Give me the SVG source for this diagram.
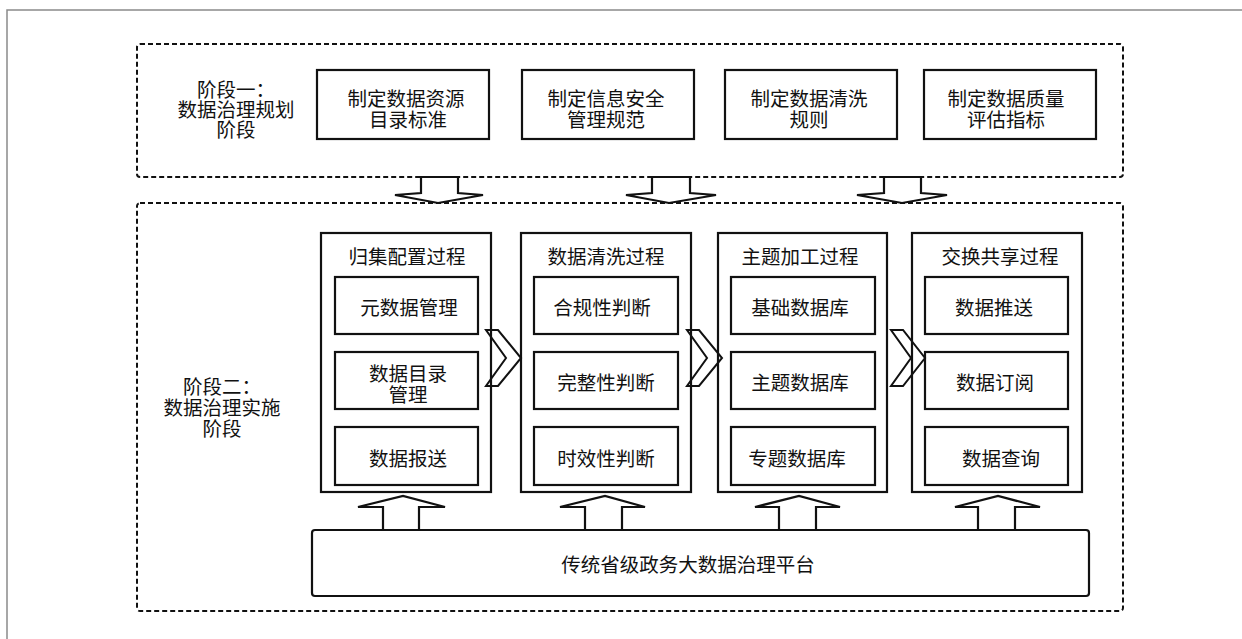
<svg xmlns="http://www.w3.org/2000/svg" width="1242" height="639" viewBox="0 0 1242 639">
<style>
text{font-family:"Noto Sans CJK SC","Noto Sans",sans-serif;font-size:19.5px;fill:#111;text-anchor:middle;dominant-baseline:central}
.dash{fill:none;stroke:#111;stroke-width:2;stroke-dasharray:5 3}
.box{fill:#fff;stroke:#111;stroke-width:2.2}
.arr{fill:#fff;stroke:#111;stroke-width:2.2;stroke-linejoin:miter}
.chev{fill:none;stroke:#111;stroke-width:2}
</style>
<rect width="1242" height="639" fill="#fff"/>
<rect x="7" y="10" width="1260" height="660" fill="none" stroke="#8a8a8a" stroke-width="1.5"/>

<g id="stage1">
<rect class="dash" x="137" y="44" width="986" height="133" rx="3"/>
<text><tspan x="236" y="88">阶段一：</tspan><tspan x="236" y="108">数据治理规划</tspan><tspan x="236" y="128">阶段</tspan></text>
</g>
<g id="p1">
<rect class="box" x="317" y="70" width="172" height="69"/>
<text><tspan x="406" y="97">制定数据资源</tspan><tspan x="408" y="118">目录标准</tspan></text>
</g>
<g id="p2">
<rect class="box" x="522" y="70" width="172" height="69"/>
<text><tspan x="606" y="97">制定信息安全</tspan><tspan x="606" y="118">管理规范</tspan></text>
</g>
<g id="p3">
<rect class="box" x="725" y="70" width="172" height="69"/>
<text><tspan x="809" y="97">制定数据清洗</tspan><tspan x="809" y="118">规则</tspan></text>
</g>
<g id="p4">
<rect class="box" x="924" y="70" width="172" height="69"/>
<text><tspan x="1006" y="97">制定数据质量</tspan><tspan x="1006" y="118">评估指标</tspan></text>
</g>

<g id="stage2">
<rect class="dash" x="137" y="203" width="986" height="408" rx="3"/>
<text><tspan x="222" y="385">阶段二：</tspan><tspan x="222" y="406">数据治理实施</tspan><tspan x="222" y="427">阶段</tspan></text>
</g>

<g id="procA">
<rect class="box" x="321" y="233" width="170" height="259"/>
<text x="407" y="255">归集配置过程</text>
<rect class="box" x="335" y="277" width="143" height="57"/>
<text x="409" y="306">元数据管理</text>
<rect class="box" x="335" y="352" width="143" height="57"/>
<text><tspan x="408" y="372">数据目录</tspan><tspan x="408" y="393">管理</tspan></text>
<rect class="box" x="335" y="427" width="143" height="58"/>
<text x="408" y="457">数据报送</text>
</g>
<g id="procB">
<rect class="box" x="521" y="233" width="170" height="259"/>
<text x="606" y="255">数据清洗过程</text>
<rect class="box" x="534" y="277" width="144" height="57"/>
<text x="602" y="306">合规性判断</text>
<rect class="box" x="534" y="352" width="144" height="57"/>
<text x="606" y="381">完整性判断</text>
<rect class="box" x="534" y="427" width="144" height="58"/>
<text x="606" y="457">时效性判断</text>
</g>
<g id="procC">
<rect class="box" x="718" y="233" width="169" height="259"/>
<text x="800" y="255">主题加工过程</text>
<rect class="box" x="731" y="277" width="144" height="57"/>
<text x="800" y="306">基础数据库</text>
<rect class="box" x="731" y="352" width="144" height="57"/>
<text x="800" y="381">主题数据库</text>
<rect class="box" x="731" y="427" width="144" height="58"/>
<text x="797" y="457">专题数据库</text>
</g>
<g id="procD">
<rect class="box" x="912" y="233" width="170" height="259"/>
<text x="1000" y="255">交换共享过程</text>
<rect class="box" x="925" y="277" width="143" height="57"/>
<text x="994" y="306">数据推送</text>
<rect class="box" x="925" y="352" width="143" height="57"/>
<text x="995" y="381">数据订阅</text>
<rect class="box" x="925" y="427" width="143" height="58"/>
<text x="1001" y="457">数据查询</text>
</g>

<g id="platform">
<rect class="box" x="312" y="530" width="777" height="66" rx="3"/>
<text x="688" y="563">传统省级政务大数据治理平台</text>
</g>

<g id="connectors">
<polygon class="arr" points="421,177 458,177 458,193 483,195 438,203 395,195 421,193"/>
<polygon class="arr" points="652,177 690,177 690,193 716,195 669,203 626,195 652,193"/>
<polygon class="arr" points="884,177 921,177 921,193 947,195 902,203 857,195 884,193"/>
<polygon class="chev" points="486,330 498,330 521,358 498,386 486,386 506,358"/>
<polygon class="chev" points="687,330 699,330 722,358 699,386 687,386 707,358"/>
<polygon class="chev" points="891,330 903,330 925,358 903,386 891,386 911,358"/>
<polygon class="arr" points="383,530 383,507 358,507 403,496 445,507 419,507 419,530"/>
<polygon class="arr" points="585,530 585,507 560,507 605,496 645,507 622,507 622,530"/>
<polygon class="arr" points="779,530 779,507 755,507 799,496 840,507 816,507 816,530"/>
<polygon class="arr" points="978,530 978,507 955,507 998,496 1040,507 1015,507 1015,530"/>
</g>
</svg>
